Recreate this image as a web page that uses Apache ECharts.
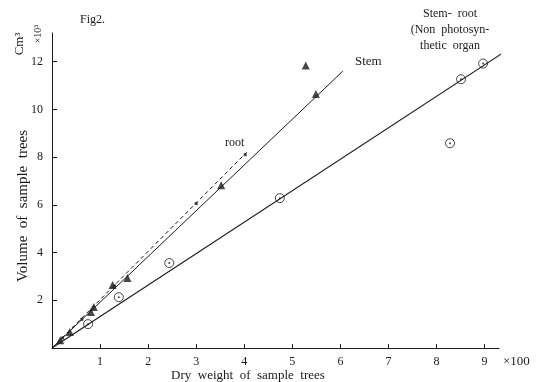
<!DOCTYPE html>
<html lang="en">
<head>
    <meta charset="UTF-8">
    <title>Fig2</title>
    <script src="https://cdn.jsdelivr.net/npm/echarts@6/dist/echarts.min.js"></script>
    <style>
        html, body { margin: 0; padding: 0; background: #fff; }
        #box { width: 542px; height: 382px; }
    </style>
</head>
<body>
    <div id="box"></div>
    <script>
        // dry weight (x100) , volume (x10^3 cm3)
        var stemPts = [[0.17, 0.33], [0.37, 0.67], [0.81, 1.51], [0.87, 1.72], [1.26, 2.64],
                       [1.57, 2.93], [3.52, 6.82], [5.49, 10.64], [5.28, 11.84]];
        var rootPts = [[0.22, 0.42], [0.62, 1.2], [1.3, 2.6], [3.0, 6.05], [4.02, 8.1]];
        var stemRootPts = [[0.75, 1.0], [1.39, 2.13], [2.44, 3.56], [4.74, 6.28],
                           [8.28, 8.58], [8.51, 11.26], [8.97, 11.92]];
        // fitted lines as drawn
        var stemLine = [[0, 0], [6.05, 11.6]];
        var rootLine = [[0, 0], [4.05, 8.2]];
        var stemRootLine = [[0, 0], [9.46, 12.47]];

        var ink = '#1a1a1a';
        var font = 'Liberation Serif';

        var myChart = echarts.init(document.getElementById('box'));
        var option = {
            backgroundColor: '#fff',
            animation: false,
            grid: { left: 52, top: 33, right: 43, bottom: 34 },
            xAxis: {
                type: 'value',
                min: 0, max: 9.3, interval: 1,
                axisLine: { lineStyle: { color: ink, width: 1.2 } },
                axisTick: { inside: true, length: 4, lineStyle: { color: ink } },
                axisLabel: {
                    color: ink, fontFamily: font, fontSize: 12, margin: 8,
                    showMaxLabel: false,
                    formatter: function (v) { return v === 0 ? '' : v; }
                },
                splitLine: { show: false }
            },
            yAxis: {
                type: 'value',
                min: 0, max: 13.2, interval: 2,
                axisLine: { show: true, lineStyle: { color: ink, width: 1 } },
                axisTick: { show: true, inside: true, length: 5, lineStyle: { color: ink } },
                axisLabel: {
                    color: ink, fontFamily: font, fontSize: 12, margin: 9,
                    showMaxLabel: false,
                    formatter: function (v) { return v === 0 ? '' : v; }
                },
                splitLine: { show: false }
            },
            graphic: [
                { type: 'text', left: 80, top: 14, style: { text: 'Fig2.', fill: ink, font: '12px ' + font } },
                { type: 'text', x: 23, y: 206, rotation: Math.PI / 2, style: { text: 'Volume  of  sample  trees', fill: ink, font: '15px ' + font, align: 'center', verticalAlign: 'middle' } },
                { type: 'text', x: 20, y: 44, rotation: Math.PI / 2, style: { text: 'Cm³', fill: ink, font: '13px ' + font, align: 'center', verticalAlign: 'middle' } },
                { type: 'text', x: 38, y: 34, rotation: Math.PI / 2, style: { text: '×10³', fill: ink, font: '10px ' + font, align: 'center', verticalAlign: 'middle' } },
                { type: 'text', x: 248, y: 376, style: { text: 'Dry  weight  of  sample  trees', fill: ink, font: '13px ' + font, align: 'center', verticalAlign: 'middle' } },
                { type: 'text', x: 503, y: 362, style: { text: '×100', fill: ink, font: '13px ' + font, verticalAlign: 'middle' } },
                { type: 'text', x: 355, y: 62, style: { text: 'Stem', fill: ink, font: '13px ' + font, verticalAlign: 'middle' } },
                { type: 'text', x: 225, y: 143, style: { text: 'root', fill: ink, font: '12px ' + font, verticalAlign: 'middle' } },
                { type: 'text', x: 450, y: 6, style: { text: 'Stem-  root\n(Non  photosyn-\nthetic  organ', fill: ink, font: '12px ' + font, align: 'center', lineHeight: 16 } }
            ],
            series: [
                {
                    name: 'Stem line', type: 'line', data: stemLine, clip: false,
                    symbol: 'none', lineStyle: { color: ink, width: 1 }, silent: true
                },
                {
                    name: 'root line', type: 'line', data: rootLine, clip: false,
                    symbol: 'none', lineStyle: { color: ink, width: 1, type: [4, 3] }, silent: true
                },
                {
                    name: 'Stem-root line', type: 'line', data: stemRootLine, clip: false,
                    symbol: 'none', lineStyle: { color: ink, width: 1.2 }, silent: true
                },
                {
                    name: 'Stem', type: 'scatter', data: stemPts,
                    symbol: 'triangle', symbolSize: 8, itemStyle: { color: ink }
                },
                {
                    name: 'root', type: 'scatter', data: rootPts,
                    symbol: 'rect', symbolSize: 3, itemStyle: { color: ink }
                },
                {
                    name: 'Stem-root', type: 'scatter', data: stemRootPts,
                    symbol: 'circle', symbolSize: 9,
                    itemStyle: { color: '#fff', borderColor: ink, borderWidth: 1 }
                },
                {
                    name: 'Stem-root centre', type: 'scatter', data: stemRootPts,
                    symbol: 'circle', symbolSize: 2, itemStyle: { color: ink }, z: 3
                }
            ]
        };
        myChart.setOption(option);
    </script>
</body>
</html>
